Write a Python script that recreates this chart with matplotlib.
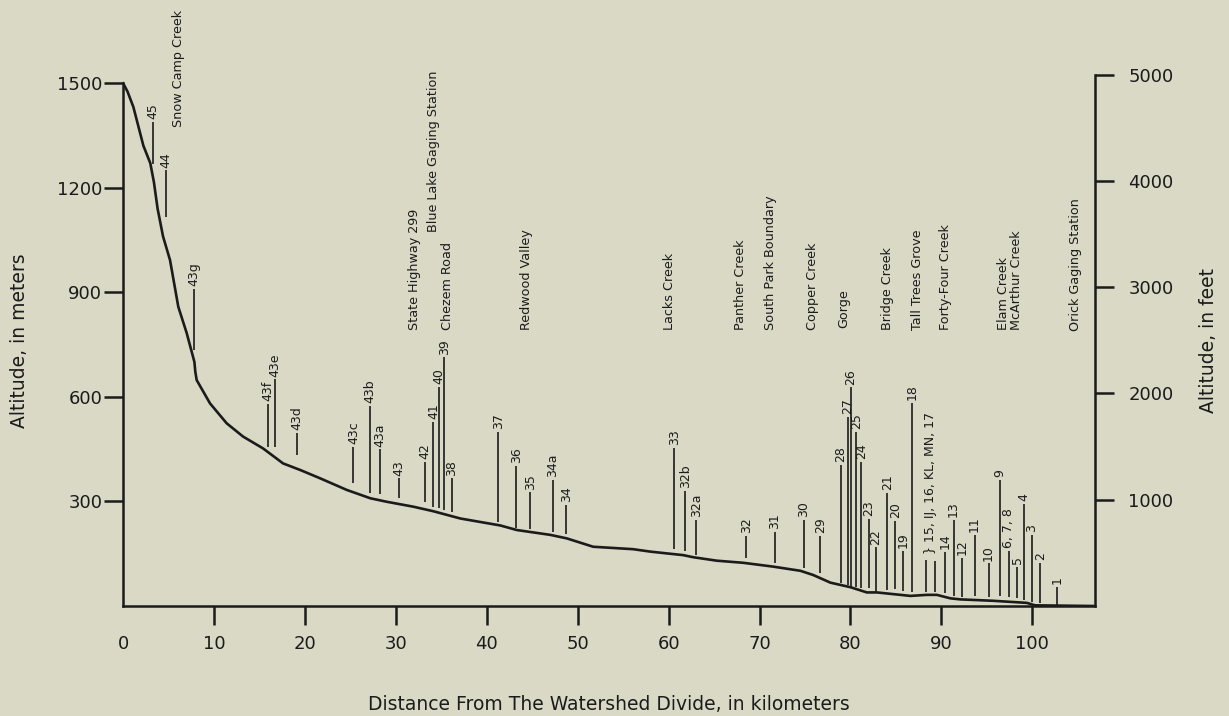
import matplotlib
matplotlib.use('Agg')
from matplotlib import pyplot as plt

# %% data
# river profile: distance from the divide (km) and altitude (m)
profile_km = [0, 0.5, 1.14, 2.24, 3.0, 3.4, 3.8, 4.4, 5.17, 6.08, 7.0, 7.85, 7.95,
              8.1, 9.57, 11.4, 13.2, 15.4, 17.6, 19.5, 21.7, 24.6, 27.2, 29.0,
              31.9, 34.1, 37.1, 41.5, 43.3, 47.0, 48.8, 51.7, 56.1, 58.0, 60.5,
              61.6, 62.7, 65.3, 68.2, 71.5, 74.5, 75.9, 77.8, 80.0, 81.8, 82.9,
              85.5, 86.6, 88.4, 89.5, 91.0, 92.1, 95.7, 99.4, 100.3, 106.9]
profile_m = [1500, 1475, 1431, 1320, 1270, 1215, 1140, 1060, 992, 858, 783, 700, 672,
             648, 581, 524, 486, 452, 409, 390, 366, 333, 309, 299,
             285, 272, 251, 231, 218, 204, 194, 170, 163, 156, 149,
             146, 140, 130, 124, 113, 101, 89, 67, 54, 39, 39,
             32, 29, 32, 32, 22, 19, 15, 9, 2, 0]

# sampling sites: label, km, top of marker line, base of marker line (m)
station_lbl = ['45', '44', '43g', '43f', '43e', '43d', '43c', '43b', '43a', '43',
               '42', '41', '40', '39', '38', '37', '36', '35', '34a', '34',
               '33', '32b', '32a', '32', '31', '30', '29', '28', '27', '26',
               '25', '24', '23', '22', '21', '20', '19', '18', '', '',
               '14', '13', '12', '11', '10', '9', '6, 7, 8', '5', '4', '3',
               '2', '1']
station_km = [3.33, 4.70, 7.84, 15.98, 16.72, 19.17, 25.34, 27.17, 28.27, 30.36,
              33.22, 34.14, 34.76, 35.35, 36.16, 41.29, 43.23, 44.77, 47.27, 48.73,
              60.65, 61.83, 63.04, 68.54, 71.65, 74.84, 76.68, 78.95, 79.68, 80.05,
              80.64, 81.19, 82.03, 82.80, 84.05, 84.93, 85.81, 86.80, 88.30, 89.29,
              90.43, 91.34, 92.27, 93.65, 95.19, 96.40, 97.39, 98.32, 99.04, 99.97,
              100.88, 102.72]
station_top = [1389, 1249, 910, 579, 650, 497, 457, 574, 449, 366,
               413, 529, 629, 713, 366, 500, 401, 326, 361, 290,
               453, 330, 247, 201, 213, 247, 201, 404, 543, 627,
               500, 414, 249, 168, 324, 244, 159, 582, 133, 130,
               156, 247, 137, 204, 122, 361, 158, 113, 294, 204,
               124, 55]
station_base = [1269, 1115, 734, 457, 457, 433, 352, 323, 320, 309,
                299, 285, 280, 275, 270, 242, 223, 220, 211, 206,
                163, 159, 146, 138, 122, 108, 94, 67, 60, 55,
                54, 51, 51, 41, 46, 48, 44, 41, 41, 40,
                36, 29, 27, 29, 27, 29, 27, 22, 17, 12,
                9, 0]

# the bracketed group of sites near km 88-89
group_lbl = '} 15, IJ, 16, KL, MN, 17'
group_km = 88.8
group_m = 142

# place names written along the top
place_lbl = ['Snow Camp Creek', 'State Highway 299', 'Blue Lake Gaging Station',
             'Chezem Road', 'Redwood Valley', 'Lacks Creek', 'Panther Creek',
             'South Park Boundary', 'Copper Creek', 'Gorge', 'Bridge Creek',
             'Tall Trees Grove', 'Forty-Four Creek', 'Elam Creek',
             'McArthur Creek', 'Orick Gaging Station']
place_km = [6.05, 32.1, 34.2, 35.7, 44.4, 60.1, 67.9, 71.25, 75.8, 79.3,
            84.1, 87.4, 90.4, 96.8, 98.3, 104.8]
place_m = [1374, 792, 1073, 792, 792, 792, 792, 792, 792, 796,
           792, 792, 792, 792, 792, 788]

m_ticks = [300, 600, 900, 1200, 1500]
ft_ticks = [1000, 2000, 3000, 4000, 5000]
km_ticks = [0, 10, 20, 30, 40, 50, 60, 70, 80, 90, 100]

# %% figure
BG = '#d9d9c6'
INK = '#1b1b1b'
FT_PER_M = 1 / 0.3048

fig = plt.figure(figsize=(12.29, 7.16), dpi=100, facecolor=BG)
ax = fig.add_axes([0.1001, 0.1536, 0.8910 - 0.1001, 0.8958 - 0.1536])
ax.set_facecolor(BG)

ax.plot(profile_km, profile_m, color=INK, lw=1.9, solid_capstyle='round',
        solid_joinstyle='round')
ax.vlines(station_km, station_base, station_top, color=INK, lw=1.2)

for lbl, x, top in zip(station_lbl, station_km, station_top):
    if lbl:
        ax.annotate(lbl, (x, top), xytext=(0, 2), textcoords='offset points',
                    rotation=90, ha='center', va='bottom', fontsize=9, color=INK)
ax.annotate(group_lbl, (group_km, group_m), xytext=(0, 2), textcoords='offset points',
            rotation=90, ha='center', va='bottom', fontsize=9, color=INK)

for lbl, x, y in zip(place_lbl, place_km, place_m):
    ax.text(x, y, lbl, rotation=90, ha='center', va='bottom', fontsize=9.2, color=INK)

ax.set_xlim(0, 106.9)
ax.set_ylim(0, 1500 / 0.98425)
ax.set_xticks(km_ticks)
ax.set_yticks(m_ticks)
ax.xaxis.get_major_ticks()[0].tick1line.set_visible(False)

for side in ['top', 'right']:
    ax.spines[side].set_visible(False)
ax.spines['left'].set_bounds(0, 1500)
for side in ['left', 'bottom']:
    ax.spines[side].set_linewidth(1.8)
    ax.spines[side].set_color(INK)

ax.tick_params(axis='both', direction='out', length=14, width=1.8, colors=INK,
               labelsize=13)
ax.tick_params(axis='x', pad=7)
ax.tick_params(axis='y', pad=1)

ax2 = ax.twinx()
ax2.set_ylim(0, ax.get_ylim()[1] * FT_PER_M)
ax2.set_yticks(ft_ticks)
for side in ['top', 'left', 'bottom']:
    ax2.spines[side].set_visible(False)
ax2.spines['right'].set_linewidth(1.8)
ax2.spines['right'].set_color(INK)
ax2.tick_params(axis='y', direction='out', length=14, width=1.8, colors=INK,
                labelsize=13, pad=10)

ax.set_xlabel('Distance From The Watershed Divide, in kilometers', fontsize=13.5,
              color=INK, labelpad=30)
ax.set_ylabel('Altitude, in meters', fontsize=13.5, color=INK, labelpad=20)
ax2.set_ylabel('Altitude, in feet', fontsize=13.5, color=INK, labelpad=18)

fig.savefig('out.png', dpi=100, facecolor=BG)
